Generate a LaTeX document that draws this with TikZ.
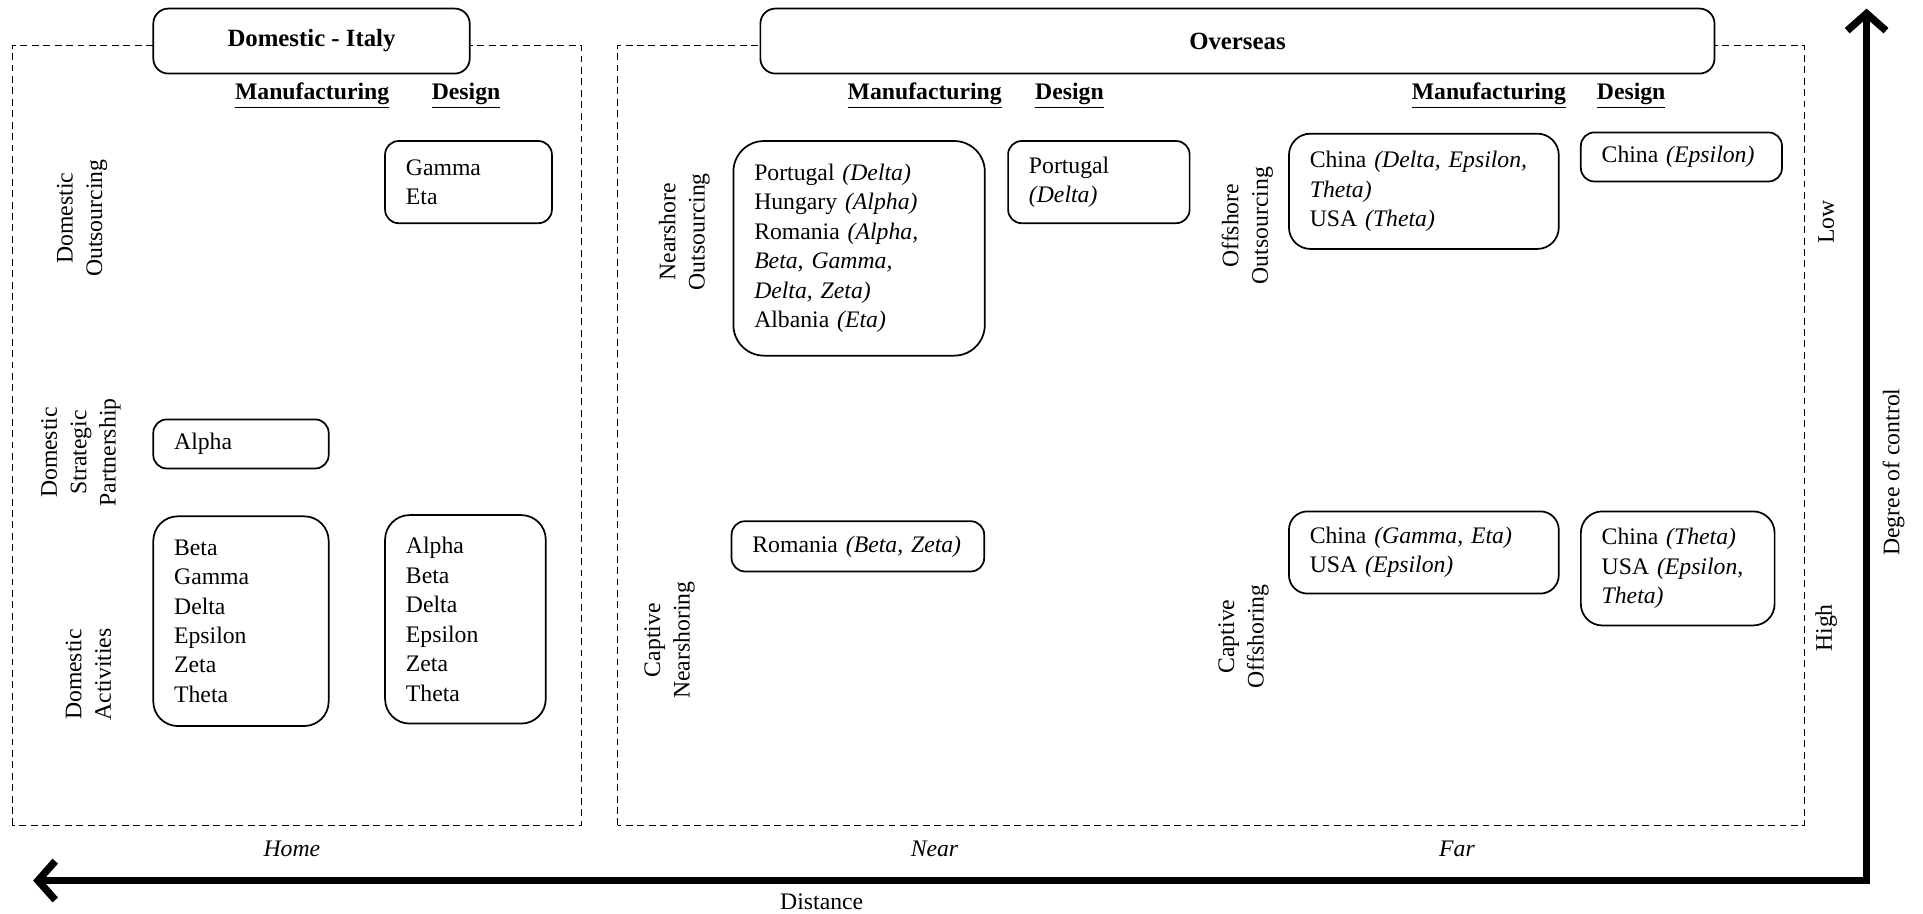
\documentclass[tikz,border=0pt]{standalone}
\usepackage{fontspec}
\setmainfont{Liberation Serif}
\usetikzlibrary{arrows.meta}

\newcommand{\bodyfont}{\fontsize{11}{13.66}\selectfont}

\begin{document}
\begin{tikzpicture}[>={Straight Barb[length=8pt,width=18pt]}, font=\bodyfont]

\tikzset{
    region/.style={
        draw, thin, dash pattern=on 3.2pt off 2.1pt
    },
    title box/.style={
        draw, fill=white, line width=0.8pt, rounded corners=7pt,
        minimum width=#1, minimum height=1.06cm,
        font=\fontsize{11.5}{14}\selectfont\bfseries
    },
    col head/.style={
        font=\bodyfont\bfseries
    },
    cell box/.style 2 args={
        draw, line width=0.8pt, rounded corners=0.22cm,
        text width=#1cm, minimum height=#2cm,
        inner xsep=0.34cm, align=left
    },
    side label/.style={
        rotate=90, align=center
    },
    axis/.style={
        line width=3.4pt, <->
    }
}

\useasboundingbox (0,0) rectangle (31.36,14.9);

% Regions (dashed frames)
\draw[region] (0.2,1.44) rectangle (9.48,14.16);
\draw[region] (10.07,1.44) rectangle (29.42,14.16);

% Titles
\node[title box=5.16cm] (domTitle) at (5.08,14.23) {Domestic - Italy};
\node[title box=15.56cm] (ovTitle) at (20.18,14.23) {Overseas};

% Column headers
\node[col head] (domMan)  at (5.09,13.34)  {\underline{Manufacturing}};
\node[col head] (domDes)  at (7.6,13.34)   {\underline{Design}};
\node[col head] (nearMan) at (15.08,13.34) {\underline{Manufacturing}};
\node[col head] (nearDes) at (17.44,13.34) {\underline{Design}};
\node[col head] (farMan)  at (24.28,13.34) {\underline{Manufacturing}};
\node[col head] (farDes)  at (26.6,13.34)  {\underline{Design}};

% Row labels
\node[side label] (domOut)  at (1.34,11.34) {Domestic\\Outsourcing};
\node[side label] (domPart) at (1.32,7.52)  {Domestic\\Strategic\\Partnership};
\node[side label] (domAct)  at (1.44,3.9)   {Domestic\\Activities};
\node[side label] (nearOut) at (11.16,11.12) {Nearshore\\Outsourcing};
\node[side label] (nearCap) at (10.92,4.46)  {Captive\\Nearshoring};
\node[side label] (offOut)  at (20.34,11.22) {Offshore\\Outsourcing};
\node[side label] (offCap)  at (20.28,4.52)  {Captive\\Offshoring};

% DOMESTIC - ITALY
\node[cell box={2.04}{1.34}] (dosDes) at (7.64,11.93) {Gamma\\Eta};
\node[cell box={2.18}{0.8}] (dspMan) at (3.93,7.66) {Alpha};
\node[cell box={2.18}{3.42}, rounded corners=0.4cm] (daMan) at (3.93,4.77)
    {Beta\\Gamma\\Delta\\Epsilon\\Zeta\\Theta};
\node[cell box={1.94}{3.4}, rounded corners=0.4cm] (daDes) at (7.59,4.8)
    {Alpha\\Beta\\Delta\\Epsilon\\Zeta\\Theta};

% OVERSEAS - near
\node[cell box={3.42}{3.5}, rounded corners=0.5cm] (nsoMan) at (14.01,10.85)
    {Portugal \textit{(Delta)}\\Hungary \textit{(Alpha)}\\Romania \textit{(Alpha,}\\
     \textit{Beta, Gamma,}\\\textit{Delta, Zeta)}\\Albania \textit{(Eta)}};
\node[cell box={2.28}{1.34}] (nsoDes) at (17.92,11.93) {Portugal\\\textit{(Delta)}};
\node[cell box={3.44}{0.82}] (cnMan) at (13.99,5.99) {Romania \textit{(Beta, Zeta)}};

% OVERSEAS - far
\node[cell box={3.72}{1.88}, rounded corners=0.35cm] (osoMan) at (23.22,11.78)
    {China \textit{(Delta, Epsilon,}\\\textit{Theta)}\\USA \textit{(Theta)}};
\node[cell box={2.6}{0.8}] (osoDes) at (27.42,12.34) {China \textit{(Epsilon)}};
\node[cell box={3.72}{1.34}, rounded corners=0.3cm] (coMan) at (23.22,5.89)
    {China \textit{(Gamma, Eta)}\\USA \textit{(Epsilon)}};
\node[cell box={2.48}{1.86}, rounded corners=0.35cm] (coDes) at (27.36,5.63)
    {China \textit{(Theta)}\\USA \textit{(Epsilon,}\\\textit{Theta)}};

% Axes
\coordinate (origin) at (30.44,0.54);
\coordinate (ctrlTip) at (30.44,14.76);
\coordinate (distTip) at (0.54,0.54);
\draw[axis] (ctrlTip) -- (origin) -- (distTip);

\node[side label] (low)  at (29.78,11.28) {Low};
\node[side label] (high) at (29.78,4.66)  {High};
\node[side label] (ctrl) at (30.88,7.2)   {Degree of control};

\node (home) at (4.76,1.06)  {\textit{Home}};
\node (near) at (15.24,1.06) {\textit{Near}};
\node (far)  at (23.76,1.06) {\textit{Far}};
\node (dist) at (13.4,0.2)   {Distance};

\end{tikzpicture}
\end{document}
